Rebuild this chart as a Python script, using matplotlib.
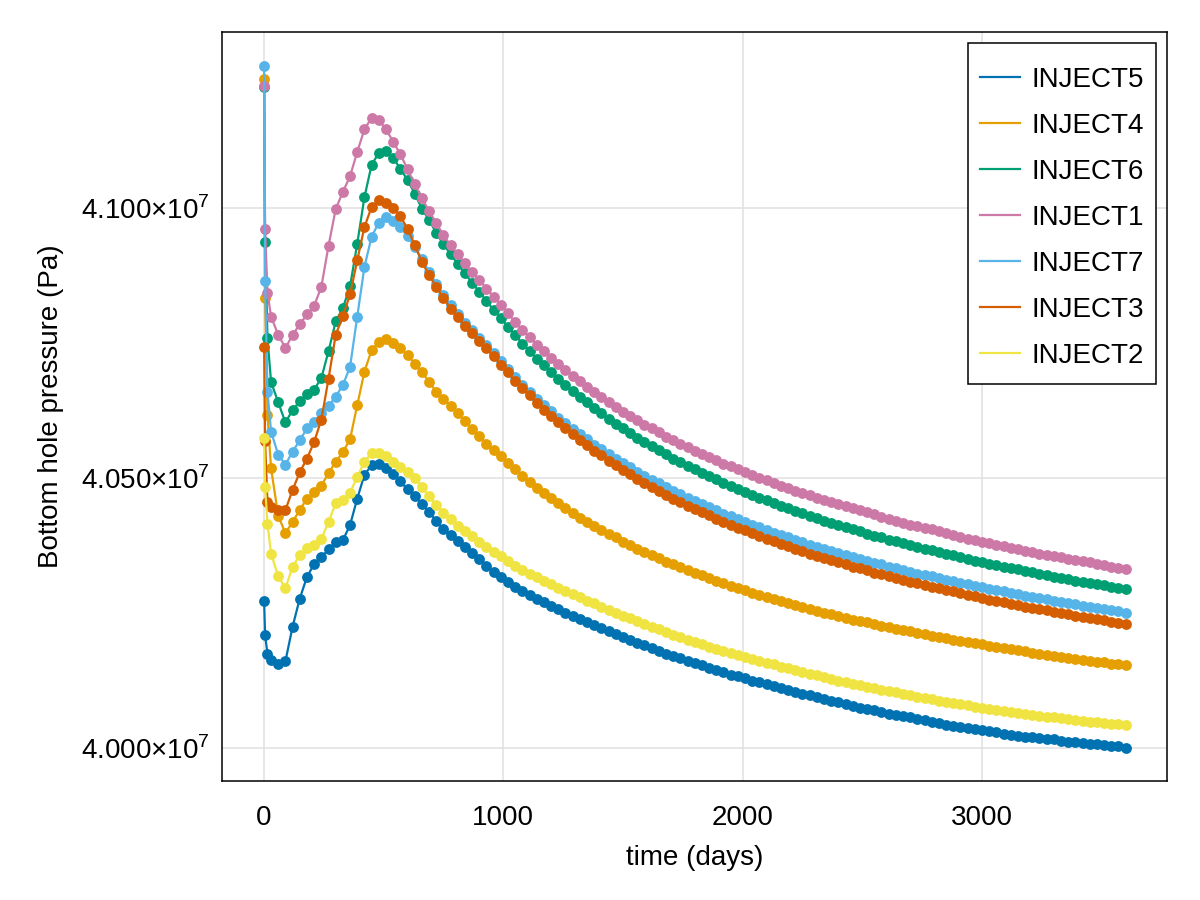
import numpy as np
import matplotlib
matplotlib.use("Agg")
import matplotlib.pyplot as plt
from matplotlib.patches import Rectangle
from matplotlib.ticker import FixedLocator, FuncFormatter

plt.rcParams['font.family'] = ['Liberation Sans', 'DejaVu Sans']
plt.rcParams['mathtext.fontset'] = 'custom'
plt.rcParams['mathtext.rm'] = 'Liberation Sans'

# report times (days): three early steps, then every 30 days
days = [1, 5, 15] + list(range(30, 3601, 30))

# bottom hole pressure per well, in kPa
inject5 = [40272, 40209, 40175,
           40163, 40156, 40161, 40225, 40277, 40317, 40341, 40354, 40368, 40382,
           40385, 40413, 40462, 40506, 40524, 40527, 40519, 40508, 40494, 40479,
           40466, 40452, 40437, 40421, 40405, 40394, 40383, 40372, 40361, 40350,
           40338, 40327, 40317, 40308, 40298,
           40290, 40283, 40276, 40270, 40263, 40257, 40251, 40245, 40239, 40233,
           40228, 40222, 40216, 40211, 40205, 40200, 40195, 40190, 40185, 40180,
           40175, 40170, 40166, 40161, 40157, 40153, 40148, 40144, 40140, 40136,
           40133, 40129, 40125, 40122, 40118, 40115, 40111, 40108, 40104, 40101,
           40098, 40095, 40091, 40088, 40085, 40081, 40078, 40075, 40073, 40070,
           40067, 40064, 40062, 40059, 40057, 40054, 40052, 40049, 40046, 40043,
           40041, 40039, 40037, 40035, 40033, 40031, 40029, 40027, 40025, 40023,
           40021, 40020, 40019, 40017, 40016, 40014, 40012, 40011, 40010, 40008,
           40007, 40005, 40004, 40003, 40001]

inject4 = [41239, 40833, 40617,
           40518, 40430, 40398, 40419, 40441, 40462, 40474, 40486, 40509, 40530,
           40548, 40572, 40635, 40697, 40737, 40752, 40757, 40751, 40740, 40728,
           40712, 40697, 40678, 40660, 40647, 40634, 40620, 40605, 40591, 40578,
           40564, 40552, 40540, 40528, 40516,
           40504, 40493, 40482, 40472, 40463, 40453, 40444, 40435, 40427, 40419,
           40411, 40404, 40396, 40390, 40382, 40376, 40369, 40363, 40357, 40352,
           40345, 40340, 40335, 40329, 40324, 40320, 40315, 40310, 40305, 40301,
           40296, 40292, 40288, 40284, 40280, 40276, 40272, 40269, 40265, 40262,
           40258, 40254, 40251, 40248, 40245, 40241, 40238, 40236, 40233, 40229,
           40227, 40224, 40221, 40218, 40216, 40213, 40211, 40208, 40206, 40204,
           40201, 40199, 40196, 40194, 40192, 40189, 40188, 40185, 40183, 40181,
           40179, 40177, 40175, 40173, 40171, 40169, 40167, 40165, 40163, 40162,
           40160, 40159, 40156, 40155, 40153]

inject6 = [41225, 40938, 40759,
           40678, 40640, 40603, 40626, 40642, 40655, 40664, 40685, 40735, 40790,
           40815, 40855, 40934, 41020, 41080, 41102, 41105, 41093, 41073, 41052,
           41027, 40999, 40978, 40954, 40933, 40915, 40896, 40879, 40862, 40845,
           40828, 40811, 40796, 40780, 40765,
           40749, 40736, 40721, 40709, 40696, 40684, 40672, 40661, 40650, 40640,
           40629, 40620, 40609, 40601, 40592, 40583, 40575, 40567, 40559, 40552,
           40544, 40536, 40530, 40523, 40516, 40510, 40504, 40498, 40491, 40486,
           40480, 40475, 40469, 40464, 40459, 40454, 40449, 40444, 40439, 40435,
           40430, 40426, 40421, 40417, 40413, 40409, 40405, 40402, 40397, 40393,
           40390, 40386, 40383, 40379, 40376, 40372, 40369, 40366, 40363, 40360,
           40357, 40354, 40351, 40347, 40344, 40341, 40339, 40336, 40333, 40331,
           40328, 40326, 40322, 40320, 40317, 40315, 40313, 40310, 40308, 40306,
           40304, 40302, 40298, 40296, 40294]

inject1 = [41227, 40962, 40843,
           40799, 40765, 40741, 40765, 40785, 40803, 40819, 40854, 40930, 40998,
           41030, 41059, 41104, 41146, 41167, 41163, 41146, 41123, 41100, 41072,
           41044, 41019, 40994, 40972, 40950, 40931, 40915, 40898, 40881, 40867,
           40851, 40836, 40820, 40805, 40789,
           40774, 40761, 40747, 40735, 40723, 40711, 40700, 40689, 40679, 40669,
           40659, 40650, 40640, 40632, 40623, 40615, 40607, 40599, 40592, 40585,
           40577, 40570, 40564, 40557, 40551, 40545, 40539, 40533, 40527, 40522,
           40516, 40511, 40506, 40501, 40496, 40491, 40486, 40482, 40477, 40473,
           40468, 40464, 40460, 40456, 40452, 40448, 40444, 40441, 40437, 40433,
           40428, 40424, 40421, 40417, 40414, 40411, 40408, 40405, 40402, 40399,
           40394, 40391, 40388, 40385, 40382, 40379, 40377, 40374, 40371, 40369,
           40365, 40363, 40360, 40358, 40355, 40353, 40351, 40348, 40346, 40344,
           40341, 40339, 40336, 40334, 40332]

inject7 = [41264, 40865, 40660,
           40586, 40543, 40525, 40549, 40570, 40592, 40604, 40620, 40633, 40651,
           40672, 40706, 40799, 40891, 40947, 40973, 40983, 40976, 40965, 40948,
           40928, 40906, 40882, 40860, 40839, 40820, 40804, 40787, 40774, 40760,
           40746, 40732, 40716, 40702, 40687,
           40673, 40660, 40647, 40635, 40624, 40612, 40602, 40591, 40581, 40572,
           40562, 40553, 40544, 40536, 40528, 40520, 40512, 40504, 40497, 40490,
           40483, 40476, 40470, 40463, 40457, 40452, 40446, 40440, 40434, 40429,
           40424, 40419, 40414, 40409, 40404, 40399, 40394, 40390, 40386, 40382,
           40377, 40373, 40369, 40365, 40361, 40357, 40353, 40350, 40346, 40343,
           40340, 40336, 40333, 40329, 40326, 40323, 40320, 40318, 40315, 40312,
           40309, 40306, 40304, 40301, 40298, 40295, 40293, 40290, 40287, 40285,
           40282, 40280, 40278, 40276, 40273, 40271, 40269, 40266, 40264, 40262,
           40260, 40258, 40255, 40253, 40251]

inject3 = [40743, 40568, 40455,
           40447, 40441, 40441, 40478, 40511, 40536, 40567, 40608, 40684, 40765,
           40800, 40840, 40903, 40965, 41002, 41015, 41009, 41000, 40985, 40962,
           40932, 40900, 40876, 40854, 40833, 40814, 40798, 40781, 40768, 40754,
           40740, 40726, 40710, 40696, 40680,
           40666, 40653, 40639, 40627, 40615, 40603, 40592, 40581, 40571, 40561,
           40551, 40542, 40532, 40524, 40515, 40507, 40499, 40491, 40484, 40477,
           40469, 40462, 40456, 40449, 40443, 40437, 40431, 40425, 40419, 40414,
           40408, 40403, 40398, 40393, 40388, 40383, 40378, 40374, 40369, 40365,
           40360, 40356, 40352, 40348, 40344, 40340, 40336, 40333, 40329, 40325,
           40322, 40318, 40315, 40311, 40308, 40305, 40302, 40299, 40296, 40293,
           40290, 40287, 40284, 40281, 40278, 40275, 40273, 40270, 40267, 40265,
           40262, 40260, 40257, 40255, 40252, 40250, 40248, 40245, 40243, 40241,
           40239, 40237, 40234, 40232, 40230]

inject2 = [40575, 40484, 40415,
           40360, 40318, 40296, 40336, 40357, 40371, 40377, 40387, 40419, 40453,
           40460, 40473, 40502, 40530, 40546, 40547, 40541, 40530, 40521, 40512,
           40500, 40484, 40466, 40450, 40436, 40424, 40412, 40402, 40392, 40382,
           40373, 40364, 40355, 40346, 40337,
           40330, 40323, 40316, 40310, 40303, 40297, 40291, 40285, 40279, 40273,
           40268, 40262, 40256, 40251, 40245, 40240, 40235, 40230, 40225, 40220,
           40215, 40210, 40206, 40201, 40197, 40193, 40188, 40184, 40180, 40176,
           40173, 40169, 40165, 40162, 40158, 40155, 40151, 40148, 40144, 40141,
           40138, 40135, 40131, 40128, 40125, 40122, 40119, 40116, 40114, 40111,
           40108, 40105, 40103, 40100, 40098, 40095, 40093, 40090, 40088, 40085,
           40083, 40081, 40079, 40077, 40075, 40073, 40071, 40069, 40067, 40065,
           40063, 40061, 40060, 40058, 40057, 40055, 40053, 40052, 40051, 40049,
           40048, 40046, 40045, 40044, 40042]

wells = ["INJECT5", "INJECT4", "INJECT6", "INJECT1", "INJECT7", "INJECT3", "INJECT2"]
colors = ["#0072B2", "#E69F00", "#009E73", "#CC79A7", "#56B4E9", "#D55E00", "#F0E442"]
series = [inject5, inject4, inject6, inject1, inject7, inject3, inject2]

fig = plt.figure(figsize=(12, 9), dpi=100)
ax = fig.add_axes([0.185, 0.1322, 0.7875, 0.8322])

for i, (name, color, vals) in enumerate(zip(wells, colors, series)):
    p = np.array(vals) * 1e3
    ax.plot(days, p, color=color, lw=1.6, label=name, zorder=3 + 2 * i)
    ax.plot(days, p, "o", color=color, ms=7.8, mec="none", zorder=4 + 2 * i)

ax.set_xlim(-175, 3773)
ax.set_ylim(3.9939e7, 4.1326e7)
ax.xaxis.set_major_locator(FixedLocator([0, 1000, 2000, 3000]))
ax.yaxis.set_major_locator(FixedLocator([4.0e7, 4.05e7, 4.1e7]))
ax.yaxis.set_major_formatter(FuncFormatter(lambda v, pos: r"$%.3f{\times}10^{7}$" % (v / 1e7)))

ax.grid(True, color="#e0e0e0", lw=1.1)
ax.set_axisbelow(True)
for s in ax.spines.values():
    s.set_linewidth(1.1)
ax.tick_params(axis="y", labelsize=20, length=0, pad=9)
ax.tick_params(axis="x", labelsize=20, length=0, pad=17)

ax.set_xlabel("time (days)", fontsize=20, labelpad=10)
ax.set_ylabel("Bottom hole pressure (Pa)", fontsize=20, labelpad=12)

# legend box drawn separately so its padding can match the original
box = Rectangle((968 / 1200, 1 - 384 / 900), 188 / 1200, 341 / 900,
                transform=fig.transFigure, facecolor="white", edgecolor="black",
                lw=1.1, zorder=30)
ax.add_artist(box)
leg = ax.legend(loc="upper left", bbox_to_anchor=(980 / 1200, 1 - 67 / 900),
                bbox_transform=fig.transFigure, fontsize=20, frameon=False,
                handlelength=1.44, handletextpad=0.4, labelspacing=0.72,
                borderpad=0, borderaxespad=0)
leg.set_zorder(31)

fig.savefig("out.png", dpi=100)
